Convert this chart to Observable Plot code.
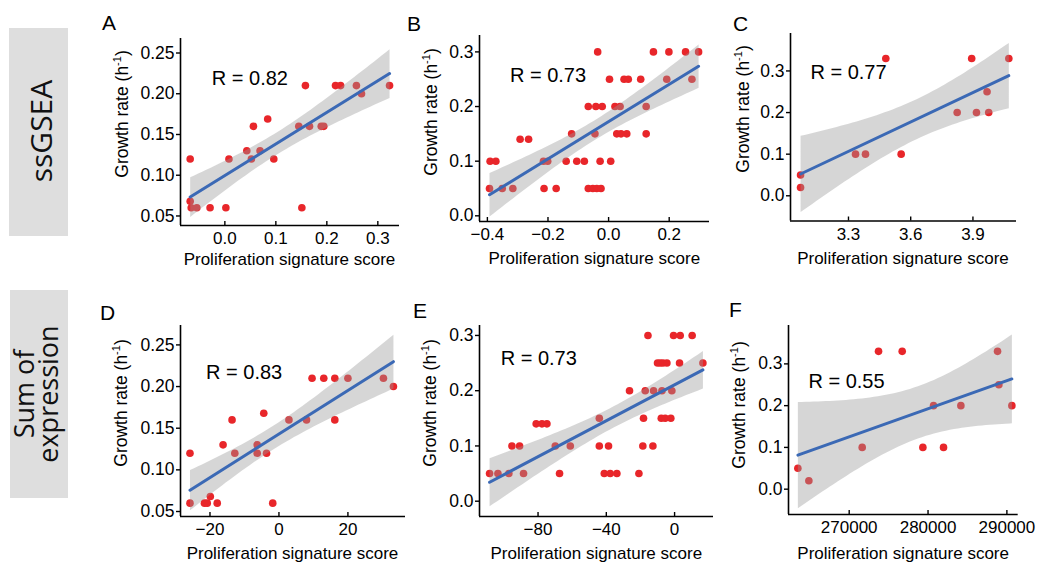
<!DOCTYPE html>
<html><head><meta charset="utf-8">
<script src="https://cdn.jsdelivr.net/npm/d3@7"></script>
<script src="https://cdn.jsdelivr.net/npm/@observablehq/plot@0.6"></script>
<style>
body{margin:0;background:#fff;}
#wrap{position:relative;width:1040px;height:568px;overflow:hidden;font-family:"Liberation Sans",Arial,sans-serif;}
#wrap svg{position:absolute;}
</style></head><body><div id="wrap"></div>
<script>
// ---------- DATA ----------
const rowLabels = ["ssGSEA", ["Sum of", "expression"]];
const panelLetters = ["A", "B", "C", "D", "E", "F"];
const rValues = ["R = 0.82", "R = 0.73", "R = 0.77", "R = 0.83", "R = 0.73", "R = 0.55"];
const xTitle = "Proliferation signature score";

// A: ssGSEA
const aScore = [-0.068, -0.068, -0.066, -0.055, -0.029, 0.002, 0.008, 0.043, 0.052, 0.056, 0.069, 0.084, 0.096, 0.145, 0.151, 0.158, 0.166, 0.189, 0.194, 0.217, 0.227, 0.258, 0.268, 0.323];
const aRate  = [0.12, 0.068, 0.06, 0.06, 0.06, 0.06, 0.12, 0.13, 0.12, 0.16, 0.13, 0.169, 0.12, 0.16, 0.06, 0.21, 0.16, 0.16, 0.16, 0.21, 0.21, 0.21, 0.20, 0.21];
// B: ssGSEA
const bScore = [-0.393, -0.351, -0.316, -0.213, -0.173, -0.067, -0.052, -0.039, -0.025,
                -0.391, -0.372, -0.215, -0.201, -0.140, -0.105, -0.080, -0.028, 0.007,
                -0.292, -0.264,
                -0.122, -0.045, 0.027, 0.041, 0.060, 0.124,
                -0.067, -0.042, -0.021, 0.021, 0.038, 0.124,
                0.003, 0.051, 0.065, 0.106, 0.192, 0.275,
                -0.036, 0.148, 0.199, 0.254, 0.297];
const bRate  = [0.05, 0.05, 0.05, 0.05, 0.05, 0.05, 0.05, 0.05, 0.05,
                0.1, 0.1, 0.1, 0.1, 0.1, 0.1, 0.1, 0.1, 0.1,
                0.14, 0.14,
                0.15, 0.15, 0.15, 0.15, 0.15, 0.15,
                0.2, 0.2, 0.2, 0.2, 0.2, 0.2,
                0.25, 0.25, 0.25, 0.25, 0.25, 0.25,
                0.3, 0.3, 0.3, 0.3, 0.3];
// C: ssGSEA
const cScore = [3.069, 3.069, 3.334, 3.382, 3.480, 3.554, 3.824, 3.894, 3.917, 3.968, 3.976, 4.073];
const cRate  = [0.05, 0.02, 0.1, 0.1, 0.33, 0.1, 0.2, 0.33, 0.2, 0.25, 0.2, 0.33];
// D: sum of expression
const dScore = [-25.8, -25.8, -21.6, -20.8, -19.9, -17.9, -16.2, -13.6, -12.8, -6.3, -6.3, -4.4, -3.6, -1.8, 2.9, 8.0, 9.6, 13.0, 16.2, 16.2, 20.0, 30.3, 33.2];
const dRate  = [0.12, 0.06, 0.06, 0.06, 0.068, 0.06, 0.13, 0.16, 0.12, 0.13, 0.12, 0.168, 0.12, 0.06, 0.16, 0.16, 0.21, 0.21, 0.21, 0.16, 0.21, 0.21, 0.20];
// E: sum of expression
const eScore = [-108.4, -103.5, -97.1, -88.5, -67.4, -41.2, -37.7, -33.8, -20.9,
                -95.3, -90.8, -69.9, -61.1, -44.1, -38.7, -18.6, -12.7,
                -81.1, -77.7, -74.8,
                -44.1, -18.2, -7.8, -5.5, -2.2,
                -26.4, -17.2, -12.3, -7.4, -1.6,
                -10.0, -8.4, -6.8, -4.5, 2.9, 16.6,
                -15.6, -0.6, 3.3, 10.3];
const eRate  = [0.05, 0.05, 0.05, 0.05, 0.05, 0.05, 0.05, 0.05, 0.05,
                0.1, 0.1, 0.1, 0.1, 0.1, 0.1, 0.1, 0.1,
                0.14, 0.14, 0.14,
                0.15, 0.15, 0.15, 0.15, 0.15,
                0.2, 0.2, 0.2, 0.2, 0.2,
                0.25, 0.25, 0.25, 0.25, 0.25, 0.25,
                0.3, 0.3, 0.3, 0.3];
// F: sum of expression
const fScore = [263489, 264884, 271649, 273721, 276723, 279344, 280697, 281965, 284164, 288815, 288984, 290633];
const fRate  = [0.05, 0.02, 0.1, 0.33, 0.33, 0.1, 0.2, 0.1, 0.2, 0.33, 0.25, 0.2];

// tick values
const yTicks2 = [0.05, 0.10, 0.15, 0.20, 0.25];
const yTicks1 = [0.0, 0.1, 0.2, 0.3];
const aXTicks = [0.0, 0.1, 0.2, 0.3];
const bXTicks = [-0.4, -0.2, 0.0, 0.2];
const cXTicks = [3.3, 3.6, 3.9];
const dXTicks = [-20, 0, 20];
const eXTicks = [-80, -40, 0];
const fXTicks = [270000, 280000, 290000];

// ---------- LAYOUT ----------
const panels = [
  {x: aScore, y: aRate, frame: [180, 399, 37.5, 224.5], xd: [-0.087, 0.3425], yd: [0.0383, 0.2678], xt: aXTicks, yt: yTicks2, xf: d3.format(".1f"), yf: d3.format(".2f"), rp: [0.049, 0.219], letter: [102, 30], yTitle: [128, 114], xTitleY: 264.5},
  {x: bScore, y: bRate, frame: [479.3, 709.3, 35, 221], xd: [-0.426, 0.333], yd: [-0.0104, 0.330], xt: bXTicks, yt: yTicks1, xf: d3.format(".1f"), yf: d3.format(".1f"), rp: [-0.2, 0.257], letter: [407, 31], yTitle: [436.5, 112], xTitleY: 263.5},
  {x: cScore, y: cRate, frame: [790, 1016, 33, 220.5], xd: [3.0205, 4.11], yd: [-0.0606, 0.390], xt: cXTicks, yt: yTicks1, xf: d3.format(".1f"), yf: d3.format(".1f"), rp: [3.3, 0.297], letter: [733, 31], yTitle: [748.5, 109], xTitleY: 263.5},
  {x: dScore, y: dRate, frame: [180, 405, 325, 516], xd: [-28.55, 36.7], yd: [0.044, 0.2733], xt: dXTicks, yt: yTicks2, xf: d3.format("d"), yf: d3.format(".2f"), rp: [-10.1, 0.217], letter: [100, 320], yTitle: [126.5, 403], xTitleY: 559},
  {x: eScore, y: eRate, frame: [479.3, 713.3, 325, 516], xd: [-114.3, 22.8], yd: [-0.0277, 0.318], xt: eXTicks, yt: yTicks1, xf: d3.format("d"), yf: d3.format(".1f"), rp: [-79.6, 0.2585], letter: [413, 318], yTitle: [435.5, 403], xTitleY: 559},
  {x: fScore, y: fRate, frame: [788.3, 1018, 325, 514], xd: [262302, 291433], yd: [-0.0606, 0.3919], xt: fXTicks, yt: yTicks1, xf: d3.format("d"), yf: d3.format(".1f"), rp: [269658, 0.2566], letter: [729, 317], yTitle: [744.5, 405], xTitleY: 559}
];

const FONT = "Liberation Sans, Arial, Helvetica, sans-serif";
const wrap = document.getElementById("wrap");

// overlay (row labels, panel letters, axis titles)
const ov = d3.select(wrap).append("svg")
  .attr("width", 1040).attr("height", 568)
  .style("left", "0px").style("top", "0px");

const boxes = [[9, 28, 59, 208], [10, 290, 58, 208]];
boxes.forEach((b) => {
  ov.append("rect").attr("x", b[0]).attr("y", b[1]).attr("width", b[2]).attr("height", b[3]).attr("fill", "#dedede");
});
// ssGSEA
ov.append("text").attr("transform", "translate(51.5,131) rotate(-90)")
  .attr("text-anchor", "middle").attr("font-family", "Open Sans, sans-serif").attr("font-size", 30).attr("fill", "#111")
  .text(rowLabels[0]);
// Sum of / expression
rowLabels[1].forEach((t, i) => {
  ov.append("text").attr("transform", `translate(${i === 0 ? 34 : 58},394) rotate(-90)`)
    .attr("text-anchor", "middle").attr("font-family", "Open Sans, sans-serif").attr("font-size", 27).attr("fill", "#111")
    .text(t);
});

panels.forEach((p, i) => {
  // letter
  ov.append("text").attr("x", p.letter[0]).attr("y", p.letter[1])
    .attr("font-family", FONT).attr("font-size", 21).attr("fill", "#000").text(panelLetters[i]);
  // y title
  const yt = ov.append("text").attr("transform", `translate(${p.yTitle[0]},${p.yTitle[1]}) rotate(-90)`)
    .attr("text-anchor", "middle").attr("font-family", FONT).attr("font-size", 17.5).attr("fill", "#000");
  yt.append("tspan").text("Growth rate (h");
  yt.append("tspan").attr("font-size", 11).attr("dy", -7).text("-1");
  yt.append("tspan").attr("dy", 7).text(")");
  // x title
  ov.append("text").attr("x", (p.frame[0] + p.frame[1]) / 2).attr("y", p.xTitleY)
    .attr("text-anchor", "middle").attr("font-family", FONT).attr("font-size", 17).attr("fill", "#000")
    .text(xTitle);
});

// charts
panels.forEach((p, i) => {
  const ml = 70, mr = 20, mt = 20, mb = 40;
  const w = p.frame[1] - p.frame[0], h = p.frame[3] - p.frame[2];
  const data = p.x.map((x, k) => ({score: x, rate: p.y[k]}));
  const chart = Plot.plot({
    width: w + ml + mr, height: h + mt + mb,
    marginLeft: ml, marginRight: mr, marginTop: mt, marginBottom: mb,
    style: {fontFamily: FONT, fontSize: "17px", color: "#000", background: "transparent", overflow: "visible"},
    x: {domain: p.xd},
    y: {domain: p.yd},
    marks: [
      Plot.dot(data, {x: "score", y: "rate", r: 3.8, fill: "#e8262a"}),
      Plot.linearRegressionY(data, {x: "score", y: "rate", stroke: "#3b69b5", strokeWidth: 3, fill: "#999999", fillOpacity: 0.4, ci: 0.95}),
      Plot.ruleX([p.xd[0]], {stroke: "#000", strokeWidth: 1.6}),
      Plot.ruleY([p.yd[0]], {stroke: "#000", strokeWidth: 1.6}),
      Plot.axisX(p.xt, {tickSize: -4, tickPadding: 10.5, tickFormat: p.xf, label: null, strokeWidth: 1.4}),
      Plot.axisY(p.yt, {tickSize: 4, tickPadding: 2, tickFormat: p.yf, label: null, strokeWidth: 1.4, fontSize: 17.5}),
      Plot.text([{t: rValues[i], x: p.rp[0], y: p.rp[1]}], {x: "x", y: "y", text: "t", fontSize: 20, fill: "#000"})
    ]
  });
  chart.style.left = (p.frame[0] - ml) + "px";
  chart.style.top = (p.frame[2] - mt) + "px";
  wrap.appendChild(chart);
});
</script>
</body></html>
